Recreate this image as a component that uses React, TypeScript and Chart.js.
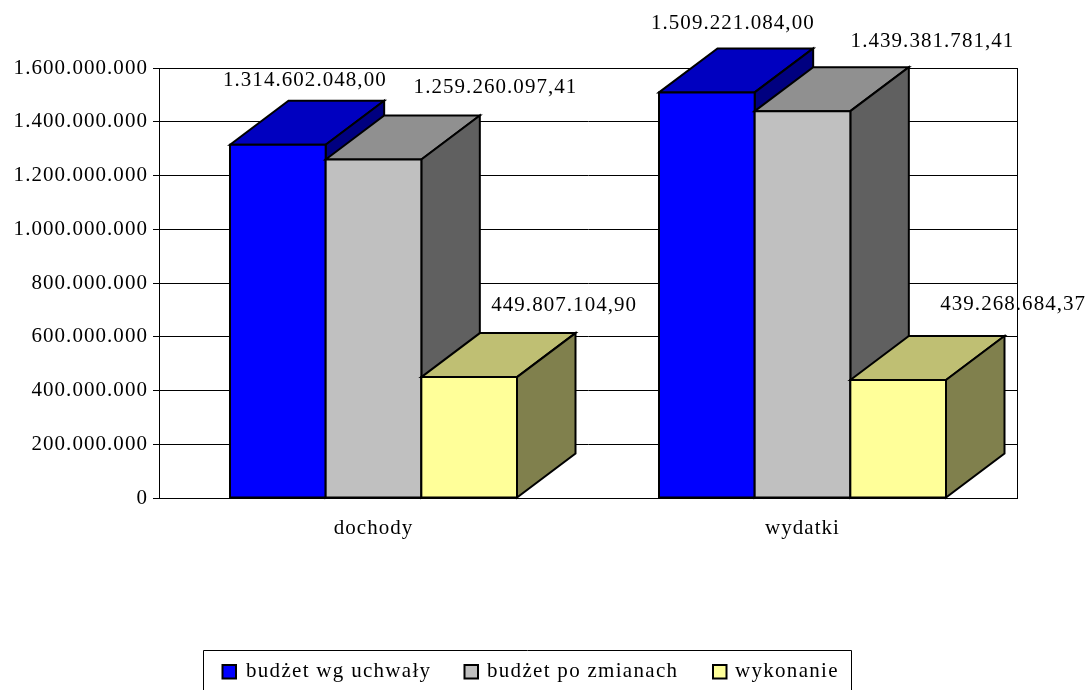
import React, { useEffect, useRef } from "react";
import { Chart, registerables } from "chart.js";

Chart.register(...registerables);

const categories = ["dochody", "wydatki"];
const budzetWgUchwaly = [1314602048.0, 1509221084.0];
const budzetPoZmianach = [1259260097.41, 1439381781.41];
const wykonanie = [449807104.9, 439268684.37];
const seriesNames = ["budżet wg uchwały", "budżet po zmianach", "wykonanie"];

const FONT = '"Liberation Serif", "Times New Roman", serif';
const FONT_SIZE = 21;
const SPACING = "1.05px";
const DEPTH_X = 58.5;
const DEPTH_Y = 44;
const front = ["#0000FF", "#C0C0C0", "#FFFF99"];
const top = ["#0000C0", "#909090", "#BFBF73"];
const side = ["#000080", "#606060", "#80804D"];
// label offset from the centre/top of each bar's front face: [series][category]
const labelOffsets = [
  [[27, -64], [26, -69]],
  [[122, -72], [130, -70]],
  [[95, -72], [115, -75]],
];
const legendLayout = { left: 203, right: 851, top: 650, swatch: [222.5, 464.5, 713], text: [246, 487, 735] };

const fmt = (v: number) => {
  const [i, d] = v.toFixed(2).split(".");
  return i.replace(/\B(?=(\d{3})+(?!\d))/g, ".") + "," + d;
};

const poly = (ctx: CanvasRenderingContext2D, pts: number[][], fill: string) => {
  ctx.beginPath();
  pts.forEach(([x, y], i) => (i ? ctx.lineTo(x, y) : ctx.moveTo(x, y)));
  ctx.closePath();
  ctx.fillStyle = fill;
  ctx.fill();
  ctx.stroke();
};

const chart3d = {
  id: "chart3d",
  beforeDraw(chart: any) {
    chart.ctx.letterSpacing = SPACING;
  },
  beforeDatasetsDraw(chart: any) {
    const { ctx, chartArea: a } = chart;
    ctx.save();
    ctx.strokeStyle = "#000";
    ctx.lineWidth = 1;
    ctx.strokeRect(a.left + 0.5, a.top + 0.5, a.right - a.left, a.bottom - a.top);
    ctx.restore();
  },
  afterDatasetsDraw(chart: any) {
    const { ctx } = chart;
    ctx.save();
    ctx.strokeStyle = "#000";
    ctx.lineWidth = 2;
    ctx.lineJoin = "miter";
    categories.forEach((_, c) => {
      chart.data.datasets.forEach((_d: any, s: number) => {
        const el = chart.getDatasetMeta(s).data[c];
        const w = el.width;
        const l = el.x - w / 2;
        const r = el.x + w / 2;
        const t = el.y;
        const b = el.base;
        poly(ctx, [[l, t], [l + DEPTH_X, t - DEPTH_Y], [r + DEPTH_X, t - DEPTH_Y], [r, t]], top[s]);
        poly(ctx, [[r, t], [r + DEPTH_X, t - DEPTH_Y], [r + DEPTH_X, b - DEPTH_Y], [r, b]], side[s]);
        poly(ctx, [[l, t], [r, t], [r, b], [l, b]], front[s]);
      });
    });
    ctx.restore();
  },
  afterDraw(chart: any) {
    const { ctx } = chart;
    ctx.save();
    ctx.letterSpacing = SPACING;
    ctx.fillStyle = "#000";
    ctx.font = `${FONT_SIZE}px ${FONT}`;
    ctx.textBaseline = "middle";
    ctx.textAlign = "center";
    chart.data.datasets.forEach((d: any, s: number) => {
      d.data.forEach((v: number, c: number) => {
        const el = chart.getDatasetMeta(s).data[c];
        const [ox, oy] = labelOffsets[s][c];
        ctx.fillText(fmt(v), el.x + ox, el.y + oy);
      });
    });
    // legend box, cut off by the bottom of the page
    const L = legendLayout;
    ctx.strokeStyle = "#000";
    ctx.lineWidth = 1;
    ctx.beginPath();
    ctx.moveTo(L.left + 0.5, 700);
    ctx.lineTo(L.left + 0.5, L.top + 0.5);
    ctx.lineTo(L.right + 0.5, L.top + 0.5);
    ctx.lineTo(L.right + 0.5, 700);
    ctx.stroke();
    ctx.textAlign = "left";
    ctx.lineWidth = 2;
    ctx.letterSpacing = "1.3px";
    chart.data.datasets.forEach((d: any, s: number) => {
      ctx.fillStyle = front[s];
      ctx.fillRect(L.swatch[s], 665, 13.5, 13.5);
      ctx.strokeRect(L.swatch[s], 665, 13.5, 13.5);
      ctx.fillStyle = "#000";
      ctx.fillText(d.label, L.text[s], 671);
    });
    ctx.restore();
  },
};

export default function App() {
  const ref = useRef<HTMLCanvasElement>(null);
  useEffect(() => {
    document.body.style.margin = "0";
    const chart = new Chart(ref.current!, {
      type: "bar",
      data: {
        labels: categories,
        datasets: [
          { label: seriesNames[0], data: budzetWgUchwaly, backgroundColor: front[0] },
          { label: seriesNames[1], data: budzetPoZmianach, backgroundColor: front[1] },
          { label: seriesNames[2], data: wykonanie, backgroundColor: front[2] },
        ],
      },
      options: {
        responsive: false,
        animation: false,
        layout: { padding: { top: 68, right: 73, left: 0, bottom: 0 } },
        plugins: { legend: { display: false }, tooltip: { enabled: false }, title: { display: false } },
        datasets: { bar: { categoryPercentage: 0.669, barPercentage: 1 } },
        scales: {
          x: {
            grid: { display: false },
            border: { color: "#000" },
            ticks: { color: "#000", font: { family: FONT, size: FONT_SIZE }, padding: 10, maxRotation: 0 },
            afterFit: (s: any) => { s.height = 192; },
          },
          y: {
            min: 0,
            max: 1600000000,
            grid: { color: "#000", tickColor: "#000", tickLength: 6 },
            border: { color: "#000" },
            ticks: {
              stepSize: 200000000,
              color: "#000",
              padding: 5,
              font: { family: FONT, size: FONT_SIZE },
              callback: (v: any) => fmt(Number(v)).split(",")[0],
            },
            afterFit: (s: any) => { s.width = 159; },
          },
        },
      },
      plugins: [chart3d],
    } as any);
    return () => chart.destroy();
  }, []);
  return <canvas ref={ref} width={1090} height={690} style={{ display: "block" }} />;
}
